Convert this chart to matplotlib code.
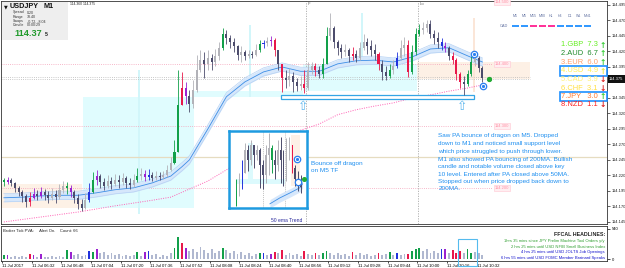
import numpy as np
import matplotlib
matplotlib.use("Agg")
import matplotlib.pyplot as plt
from matplotlib.patches import Rectangle

plt.rcParams['font.family'] = ['Liberation Sans', 'DejaVu Sans']

W, H = 625, 268

# ---------------- data (USDJPY M1, shown as 2-minute bars) ----------------
first_open = 114.213
close = [114.209,114.213,114.208,114.200,114.193,114.187,114.177,114.184,114.190,114.187,
         114.193,114.188,114.184,114.190,114.185,114.197,114.203,114.200,114.193,114.184,
         114.174,114.168,114.180,114.193,114.213,114.219,114.209,114.203,114.211,114.206,
         114.213,114.209,114.216,114.208,114.205,114.213,114.219,114.222,114.218,114.221,
         114.216,114.219,114.218,114.221,114.229,114.240,114.258,114.334,114.361,114.348,
         114.335,114.358,114.390,114.406,114.400,114.409,114.403,114.413,114.426,114.448,
         114.442,114.435,114.429,114.414,114.419,114.413,114.416,114.414,114.422,114.432,
         114.434,114.437,114.438,114.422,114.400,114.377,114.374,114.380,114.371,114.364,
         114.368,114.361,114.390,114.397,114.390,114.384,114.400,114.445,114.458,114.435,
         114.426,114.419,114.422,114.413,114.416,114.409,114.426,114.435,114.429,114.422,
         114.416,114.400,114.387,114.380,114.390,114.397,114.409,114.426,114.430,114.387,
         114.419,114.448,114.455,114.458,114.464,114.448,114.442,114.435,114.429,114.426,
         114.413,114.406,114.384,114.371,114.368,114.384,114.403,114.409,114.393,114.377]
high = [114.216,114.218,114.216,114.209,114.203,114.197,114.190,114.193,114.200,114.197,
        114.201,114.198,114.195,114.200,114.197,114.206,114.211,114.209,114.205,114.197,
        114.190,114.182,114.192,114.208,114.226,114.229,114.222,114.216,114.221,114.218,
        114.222,114.221,114.224,114.219,114.216,114.222,114.232,114.232,114.229,114.230,
        114.226,114.227,114.226,114.227,114.237,114.250,114.277,114.390,114.387,114.371,
        114.358,114.374,114.414,114.422,114.419,114.422,114.416,114.424,114.435,114.458,
        114.455,114.447,114.442,114.430,114.429,114.422,114.422,114.421,114.432,114.438,
        114.438,114.443,114.445,114.442,114.414,114.397,114.390,114.393,114.387,114.377,
        114.380,114.390,114.403,114.403,114.401,114.397,114.409,114.459,114.482,114.461,
        114.438,114.432,114.432,114.426,114.427,114.422,114.435,114.448,114.442,114.438,
        114.432,114.419,114.406,114.397,114.400,114.406,114.419,114.438,114.443,114.438,
        114.430,114.458,114.464,114.468,114.471,114.471,114.455,114.451,114.442,114.435,
        114.429,114.419,114.409,114.387,114.380,114.390,114.413,114.418,114.413,114.397]
low = [114.203,114.206,114.203,114.193,114.187,114.177,114.169,114.171,114.182,114.180,
       114.184,114.180,114.176,114.180,114.176,114.182,114.192,114.190,114.185,114.176,
       114.166,114.163,114.166,114.177,114.192,114.205,114.200,114.197,114.200,114.198,
       114.203,114.200,114.205,114.200,114.198,114.201,114.209,114.213,114.211,114.213,
       114.211,114.213,114.213,114.214,114.218,114.227,114.239,114.258,114.342,114.335,
       114.322,114.329,114.355,114.387,114.377,114.390,114.390,114.397,114.406,114.422,
       114.432,114.426,114.419,114.406,114.403,114.406,114.409,114.409,114.413,114.419,
       114.426,114.429,114.429,114.413,114.390,114.355,114.361,114.364,114.355,114.356,
       114.358,114.353,114.358,114.384,114.380,114.377,114.377,114.406,114.438,114.426,
       114.414,114.409,114.413,114.403,114.406,114.403,114.406,114.422,114.416,114.413,
       114.406,114.390,114.374,114.374,114.377,114.384,114.393,114.406,114.413,114.379,
       114.384,114.414,114.445,114.448,114.451,114.442,114.432,114.426,114.422,114.419,
       114.406,114.400,114.374,114.361,114.350,114.364,114.380,114.397,114.387,114.371]
volume = [70,70,46,58,35,52,40,87,70,40,
          87,46,35,52,40,58,46,157,128,70,
          87,58,75,145,128,174,104,128,81,116,
          70,93,58,81,52,70,128,58,128,145,
          70,93,46,81,58,104,203,394,290,203,
          145,174,128,220,162,116,174,104,145,203,
          162,116,151,87,128,70,104,58,87,116,
          116,70,93,128,116,162,81,104,70,93,
          58,145,87,70,116,81,116,145,104,81,
          116,70,93,58,128,81,104,70,87,58,
          81,104,70,87,128,70,104,81,93,87,
          145,174,203,145,174,116,145,104,174,174,
          116,162,104,145,116,174,104,128,104,70]
# PVA colour code per bar: n normal, g green, r red, b blue, p purple
pva = ("gpnnnnnrpn" "pnnnnnngpn" "nnnbgpnnnn" "nnnnnngnpb" "nnnnnnggrp"
       "nnnnnnnnng" "nnnnnnnnng" "bnprnrnnnn" "nrnnrnggnn" "nnnnrnnnnn"
       "nrnngnbnnr" "gggnnnnnbp" "nrrrnggnnn")

ema_idx = [0,5,10,15,20,25,30,35,40,45,48,50,55,60,65,70,75,80,85,90,95,100,105,110,115,120,125,129]
ema_val = [114.184,114.185,114.187,114.188,114.188,114.192,114.197,114.200,114.208,114.219,
           114.234,114.245,114.295,114.347,114.371,114.387,114.395,114.388,114.388,114.400,
           114.405,114.406,114.403,114.411,114.424,114.426,114.413,114.403]
ma200_idx = [0,10,20,30,40,45,50,55,60,65,70,75,80,85,90,95,100,105,110,115,120,125,129]
ma200_val = [114.145,114.153,114.161,114.171,114.180,114.185,114.198,114.211,114.229,114.248,
             114.266,114.282,114.293,114.303,114.318,114.326,114.332,114.337,114.345,114.350,
             114.356,114.361,114.366]

price_ticks = [114.495,114.470,114.445,114.420,114.395,114.345,114.320,114.295,114.270,
               114.245,114.220,114.195,114.170,114.145]
time_labels = ["11 Jul 2017","11 Jul 06:32","11 Jul 06:48","11 Jul 07:04","11 Jul 07:20",
               "11 Jul 07:36","11 Jul 07:52","11 Jul 08:08","11 Jul 08:24","11 Jul 08:40",
               "11 Jul 08:56","11 Jul 09:12","11 Jul 09:28","11 Jul 09:44","11 Jul 10:00",
               "11 Jul 10:16","11 Jul 10:32"]
level_lines = [114.400, 114.300, 114.200]
level_labels = ["114.500", "114.400", "114.300", "114.200"]
bid_ask = [114.379, 114.375]
key_level = 114.250

# zones: (bar_from, bar_to, price_lo, price_hi, colour)
zones = [(-0.8, 21.1, 114.168, 114.206, '#fdf1e6'),
         (21.3, 51.3, 114.168, 114.347, '#e0fcfe'),
         (51.3, 80.6, 114.347, 114.356, '#e0fcfe'),
         (80.6, 111.4, 114.356, 114.400, '#e0fcfe'),
         (111.4, 141.8, 114.376, 114.403, '#fdf0e5'),
         (36.1, 36.7, 114.158, 114.390, '#d2f6fa'),
         (66.0, 66.6, 114.347, 114.463, '#d2f6fa'),
         (96.3, 96.9, 114.400, 114.482, '#d2f6fa'),
         (126.5, 127.1, 114.355, 114.474, '#fbe6d8')]

currencies = ["1.GBP  7.3", "2.AUD  6.7", "3.EUR  6.0", "4.USD  4.9",
              "5.CAD  3.9", "6.CHF  3.1", "7.JPY   3.0", "8.NZD  1.1"]
cur_colors = ['#66ee22', '#1f8a2a', '#ff9e6a', '#ffee55', '#fff07a', '#ffe040', '#ff7a33', '#ff2020']
cur_dirs = ['up', 'up', 'up', 'up', 'down', 'down', 'up', 'down']
cur_arrow_colors = ['#33cc33', '#33cc33', '#33cc33', '#e8e840', '#dd1f1f', '#dd1f1f', '#33cc33', '#dd1f1f']

timeframes = ["M1", "M5", "M15", "M30", "H1", "H4", "D1", "W1", "MN1"]
tf_colors = ['#3399ff', '#3399ff', '#ff3399', '#ff3399', '#ff3399', '#3399ff', '#3399ff', '#3399ff', '#3399ff']

note_lines = ["Saw PA bounce of dragon on M5. Dropped",
              "down to M1 and noticed small support level",
              "which price struggled to push through lower.",
              "M1 also showed PA bouncing of 200MA. Bullish",
              "candle and notable volume closed above key",
              "10 level. Entered after PA closed above 50MA.",
              "Stopped out when price dropped back down to",
              "200MA."]
headlines = ["1hrs 35 mins since JPY Prelim Machine Tool Orders y/y",
             "2 hrs 25 mins until USD NFIB Small Business Index",
             "4 hrs 25 mins until USD JOLTS Job Openings",
             "6 hrs 55 mins until USD FOMC Member Brainard Speaks"]
headline_colors = ['#2f9e2f', '#2f9e2f', '#1010cc', '#1010cc']

# inset (M5 chart snapshot)
inset_first_open = 114.306
inset_close = [114.349,114.384,114.401,114.465,114.436,114.479,114.451,114.465,114.422,114.393,
               114.451,114.471,114.436,114.422,114.465,114.436,114.393,114.465,114.479,114.413,
               114.384,114.369,114.361]
inset_high = [114.384,114.401,114.436,114.485,114.479,114.494,114.471,114.479,114.471,114.436,
              114.479,114.514,114.479,114.465,114.494,114.503,114.465,114.500,114.503,114.479,
              114.422,114.407,114.393]
inset_low = [114.306,114.335,114.355,114.401,114.407,114.422,114.413,114.436,114.358,114.355,
             114.372,114.393,114.401,114.384,114.407,114.372,114.364,114.378,114.436,114.401,
             114.364,114.349,114.343]
inset_pva = "gnbnnnnnnnnngnnnnnnrnnn"
inset_ema_idx = [13.4, 16.8, 20.2, 23.6, 24.5]
inset_ema_val = [114.312, 114.329, 114.343, 114.358, 114.369]

# ---------------- styles ----------------
special = {'g': '#12a04a', 'r': '#e8184a', 'b': '#2233dd', 'p': '#9a22d0'}
bull_col = '#b2b2b8'
bear_col = '#4c4c6c'
vol_col = '#b0b8d0'


def prect(x0, y0, x1, y1):
    return [x0 / W, 1 - y1 / H, (x1 - x0) / W, (y1 - y0) / H]


fig = plt.figure(figsize=(W / 100, H / 100), dpi=100)
fig.patch.set_facecolor('white')


def ftext(x, y, s, **kw):
    kw.setdefault('va', 'center')
    return fig.text(x / W, 1 - y / H, s, **kw)


def frect(x0, y0, x1, y1, **kw):
    r = Rectangle((x0 / W, 1 - y1 / H), (x1 - x0) / W, (y1 - y0) / H,
                  transform=fig.transFigure, **kw)
    fig.add_artist(r)
    return r


def draw_candles(a, xs, o, h, l, c, codes, width, lw, minbody):
    o = np.asarray(o); c = np.asarray(c)
    h = np.maximum(np.asarray(h), np.maximum(o, c))
    l = np.minimum(np.asarray(l), np.minimum(o, c))
    cols = [special[k] if k != 'n' else (bull_col if cc >= oo else bear_col)
            for k, oo, cc in zip(codes, o, c)]
    a.vlines(xs, l, h, colors=cols, lw=lw, zorder=4)
    body = np.maximum(np.abs(c - o), minbody)
    a.bar(xs, body, bottom=np.minimum(o, c), width=width, color=cols, lw=0, zorder=4)
    return cols


# ---------------- main price panel ----------------
ax = fig.add_axes(prect(1, 1, 607, 224))
ax.set_xlim(-0.77, 162.6)
ax.set_ylim(114.1417, 114.5014)
ax.set_facecolor('white')

for x0, x1, p0, p1, col in zones:
    ax.add_patch(Rectangle((x0, p0), x1 - x0, p1 - p0, color=col, lw=0, zorder=0.5))

# horizontal levels
ax.axhline(key_level, color='#e6dcc0', lw=0.9, zorder=1)
for lv in level_lines:
    ax.plot([-0.77, 131.5], [lv, lv], color='#f4a0b8', lw=0.6, ls=(0, (1, 1.6)), zorder=1)
for ba in bid_ask:
    ax.plot([-0.77, 141.8], [ba, ba], color='#b8b8b8', lw=0.6, ls=(0, (1, 1.6)), zorder=1)
for lab in level_labels:
    ax.text(134.3, float(lab), lab, fontsize=3, color='#ff8fa4', ha='center', va='center', zorder=6,
            bbox=dict(fc='#ffeef1', ec='#ffc6d2', lw=0.4, pad=0.5))

# vertical session lines
for xv, lab in [(81.4, "F"), (111.6, "Lo")]:
    ax.axvline(xv, color='#aaaaaa', lw=0.6, ls=(0, (1.5, 1.5)), zorder=1)
    ax.text(xv + 0.4, 114.496, lab, fontsize=3, color='#666666', ha='left', va='center')

# dragon band (50 EMA)
ei = np.array(ema_idx, float); ev = np.array(ema_val)
bw = 0.0066
ax.fill_between(ei, ev - bw, ev + bw, color='#d6e7fb', lw=0, zorder=2)
ax.plot(ei, ev + bw, color='#b6d2f4', lw=0.5, zorder=2)
ax.plot(ei, ev - bw, color='#b6d2f4', lw=0.5, zorder=2)
ax.plot(ei, ev, color='#3d8ee6', lw=0.6, zorder=2.5)

# 200 MA
ax.plot(ma200_idx, ma200_val, color='#ff5fb4', lw=0.7, ls=(0, (1, 1.4)), zorder=2.5)

# support box
ax.add_patch(Rectangle((74.7, 114.343), 52.0, 0.006, fc='white', ec='#35a5e5', lw=0.9, zorder=3.5))

# candles
n = len(close)
opens = [first_open] + close[:-1]
xs = np.arange(n)
draw_candles(ax, xs, opens, high, low, close, pva, 0.55, 0.6, 0.0009)

# arrows, circles
for xa in [80.6, 123.5]:
    ax.text(xa, 114.331, "\u21e7", fontsize=9, color='#5cb6ee', ha='center', va='center',
            family='DejaVu Sans', zorder=6)
for (xc, pc) in [(126.7, 114.416), (129.2, 114.364)]:
    ax.plot([xc], [pc], marker='o', ms=4.6, mfc='white', mec='#2a7ff0', mew=0.9, zorder=7)
    ax.plot([xc], [pc], marker='o', ms=1.3, color='#2a7ff0', zorder=8)
ax.plot([130.7], [114.376], marker='o', ms=2.8, color='#22aa33', zorder=7)

# notes
ax.text(72.0, 114.147, "50 ema Trend", fontsize=3.6, color='#2a2a9c', ha='left', va='center')

ax.yaxis.tick_right()
ax.set_yticks(price_ticks)
ax.set_yticklabels([f"{p:.3f}" for p in price_ticks])
ax.tick_params(axis='y', labelsize=3.0, length=2, width=0.5, pad=1.2, colors='#222222')
ax.set_xticks([])
for s in ax.spines.values():
    s.set_color('#333333'); s.set_linewidth(0.6)

# ---------------- volume panel ----------------
vax = fig.add_axes(prect(1, 226, 607, 261))
vax.set_xlim(-0.77, 162.6)
vax.set_ylim(-30, 590)
vcols = [special[k] if k != 'n' else vol_col for k in pva]
vax.bar(xs, volume, width=0.5, color=vcols, lw=0)
vax.yaxis.tick_right()
vax.set_yticks([540, 0])
vax.set_yticklabels(["540", "0"])
vax.tick_params(axis='y', labelsize=3.0, length=2, width=0.5, pad=1.2)
tick_pos = [8 * k - 0.5 for k in range(len(time_labels))]
vax.set_xticks(tick_pos)
vax.set_xticklabels(time_labels)
vax.tick_params(axis='x', labelsize=3.1, length=1.5, width=0.5, pad=0.8)
for lab in vax.get_xticklabels():
    lab.set_ha('left')
for s in vax.spines.values():
    s.set_color('#333333'); s.set_linewidth(0.6)
vax.text(0.004, 0.86, "Broker Tick PVA:     Alert On.    Count: 66", transform=vax.transAxes,
         fontsize=3.0, color='#222222', ha='left', va='center')

ftext(605, 235, "FFCAL HEADLINES:", fontsize=3.8, fontweight='bold', color='#222222', ha='right')
for k, (hl, hc) in enumerate(zip(headlines, headline_colors)):
    ftext(605, 241 + 5.6 * k, hl, fontsize=3.0, color=hc, ha='right')
frect(458, 239, 477, 266, fill=False, ec='#55bbee', lw=0.8, zorder=5)

# ---------------- inset ----------------
ins = fig.add_axes(prect(229, 131, 307, 208), zorder=10)
ins.set_xlim(-0.5, 26.0)
ins.set_ylim(114.30, 114.52)
ins.set_facecolor('white')
ins.add_patch(Rectangle((6.0, 114.384), 1.7, 0.101, color='#dcfafd', lw=0, zorder=0.5))
ins.add_patch(Rectangle((2.2, 114.369), 16.3, 0.015, color='#dcfafd', lw=0, zorder=0.5))
ins.add_patch(Rectangle((20.6, 114.364), 3.0, 0.144, color='#fdf0e6', lw=0, zorder=0.5))
for xv in [11.1, 18.5]:
    ins.axvline(xv, color='#aaaaaa', lw=0.5, ls=(0, (1.5, 1.5)), zorder=1)
iev = np.array(inset_ema_val)
ins.fill_between(inset_ema_idx, iev - 0.012, iev + 0.012, color='#d6e7fb', lw=0, zorder=2)
ins.plot(inset_ema_idx, iev, color='#3d8ee6', lw=0.6, zorder=2.5)
ixs = np.arange(2, 2 + len(inset_close))
iopen = [inset_first_open] + inset_close[:-1]
draw_candles(ins, ixs, iopen, inset_high, inset_low, inset_close, inset_pva, 0.5, 0.7, 0.002)
ins.plot([22.6], [114.439], marker='o', ms=4.6, mfc='white', mec='#2a7ff0', mew=0.9, zorder=7)
ins.plot([22.6], [114.439], marker='o', ms=1.3, color='#2a7ff0', zorder=8)
ins.plot([23.0], [114.375], marker='o', ms=4.6, mfc='white', mec='#2a7ff0', mew=0.9, zorder=7)
ins.plot([25.0], [114.384], marker='o', ms=2.6, color='#22aa33', zorder=7)
ins.set_xticks([]); ins.set_yticks([])
for s in ins.spines.values():
    s.set_color('#1e9be0'); s.set_linewidth(1.8)

ftext(311, 163, "Bounce off dragon", fontsize=4.6, color='#1e8ff0', ha='left')
ftext(311, 170.5, "on M5 TF", fontsize=4.6, color='#1e8ff0', ha='left')

# note paragraph
note_y = [136, 144, 151.7, 159.5, 166.8, 174.2, 181.7, 188.6]
for s, yy in zip(note_lines, note_y):
    ftext(438.5, yy, s, fontsize=4.6, color='#1e8ff0', ha='left')

# ---------------- overlays: info panel ----------------
frect(2, 2, 68, 39.5, fc='#eeeeee', ec='none', zorder=5)
ftext(4, 6.5, "\u25bc", fontsize=3.5, color='#111111', family='DejaVu Sans', ha='left', zorder=6)
ftext(10, 6.5, "USDJPY", fontsize=5.2, fontweight='bold', color='#111111', ha='left', zorder=6)
ftext(44, 6.5, "M1", fontsize=5.2, fontweight='bold', color='#111111', ha='left', zorder=6)
for k, (lab, val) in enumerate([("Spread", "0.20"), ("Range", "78.40"),
                                ("Swaps", "-0.72, -8.04"), ("Candle", "00:00:29")]):
    ftext(13, 12.5 + 4.3 * k, lab, fontsize=2.6, color='#333333', ha='left', zorder=6)
    ftext(27, 12.5 + 4.3 * k, val, fontsize=2.6, color='#333333', ha='left', zorder=6)
ftext(14, 33, "114.37", fontsize=6.6, fontweight='bold', color='#1f9a2a', ha='left', zorder=6)
ftext(44.5, 34, "5", fontsize=3.8, fontweight='bold', color='#222222', ha='left', zorder=6)
ftext(70, 4, "114.360 114.375", fontsize=2.4, color='#222222', ha='left')

# timeframe panel
for k, (tf, tc) in enumerate(zip(timeframes, tf_colors)):
    ftext(515 + 9.1 * k, 16, tf, fontsize=2.6, color='#6070a0', ha='center')
    frect(511.5 + 9.1 * k, 25.3, 518.5 + 9.1 * k, 27.0, fc=tc, ec='none')
ftext(503.5, 26, "CAD", fontsize=2.8, color='#6070a0', ha='center')

# currency strength
cur_y = [45, 53.7, 62.2, 71, 79.6, 88, 96.4, 104.6]
for s, cc, d, ac, yy in zip(currencies, cur_colors, cur_dirs, cur_arrow_colors, cur_y):
    ftext(561, yy, s, fontsize=5.4, color=cc, ha='left')
    ftext(603, yy, "\u2191" if d == 'up' else "\u2193", fontsize=5.5, fontweight='bold',
          color=ac, family='DejaVu Sans', ha='center')
frect(560, 66.5, 607, 76, fill=False, ec='#1e90ff', lw=1.2)
frect(560, 91.5, 607, 101, fill=False, ec='#1e90ff', lw=1.2)

# current price box
frect(608, 74.8, 625, 83, fc='#111111', ec='none', zorder=6)
ftext(609, 79, "114.375", fontsize=3.0, color='white', ha='left', zorder=7)

fig.savefig("out.png", dpi=100)
